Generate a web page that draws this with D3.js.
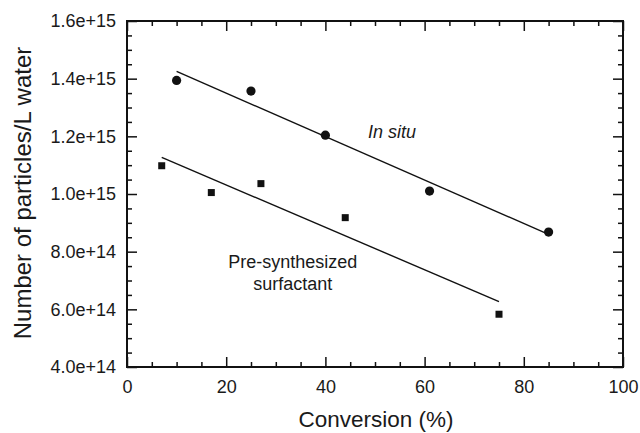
<!DOCTYPE html>
<html>
<head>
<meta charset="utf-8">
<script src="https://cdn.jsdelivr.net/npm/d3@7"></script>
<style>
  html, body { margin: 0; padding: 0; background: #fff; }
  svg { display: block; }
  text { font-family: "Liberation Sans", Arial, sans-serif; fill: #1a1a1a; }
</style>
</head>
<body>
<svg id="chart" width="640" height="433"></svg>
<script>
// ---- data ----
const inSituX = [10, 25, 40, 61, 85];
const inSituY = [1.394e15, 1.357e15, 1.204e15, 1.010e15, 0.868e15];
const preSynX = [7, 17, 27, 44, 75];
const preSynY = [1.098e15, 1.005e15, 1.036e15, 0.918e15, 0.583e15];
const inSituFitX = [10, 85];
const inSituFitY = [1.425e15, 0.86e15];
const preSynFitX = [7, 75];
const preSynFitY = [1.127e15, 0.627e15];
const xTicks = [0, 20, 40, 60, 80, 100];
const yTicks = [4e14, 6e14, 8e14, 1e15, 1.2e15, 1.4e15, 1.6e15];
const yTickLabels = ["4.0e+14", "6.0e+14", "8.0e+14", "1.0e+15", "1.2e+15", "1.4e+15", "1.6e+15"];
const xTitle = "Conversion (%)";
const yTitle = "Number of particles/L water";

// ---- layout ----
const L = 127, R = 623, T = 21, B = 367;
const svg = d3.select("#chart");
const x = d3.scaleLinear().domain([0, 100]).range([L, R]);
const y = d3.scaleLinear().domain([4e14, 1.6e15]).range([B, T]);

const xMinor = d3.range(0, 100.01, 5).filter(v => v % 20 !== 0);
const yMinor = d3.range(4e14, 1.6e15 + 1, 0.5e14).filter(v => !yTicks.some(t => Math.abs(t - v) < 1e10));

const major = 10, minor = 5;
const g = svg.append("g");

// bottom axis
g.append("g").attr("transform", `translate(0,${B})`)
  .call(d3.axisBottom(x).tickValues(xTicks).tickSize(-major).tickSizeOuter(0).tickPadding(13).tickFormat(d3.format("d")));
g.append("g").attr("transform", `translate(0,${B})`)
  .call(d3.axisBottom(x).tickValues(xMinor).tickSize(-minor).tickSizeOuter(0).tickFormat(""));
// top axis
g.append("g").attr("transform", `translate(0,${T})`)
  .call(d3.axisTop(x).tickValues(xTicks).tickSize(-major).tickSizeOuter(0).tickFormat(""));
g.append("g").attr("transform", `translate(0,${T})`)
  .call(d3.axisTop(x).tickValues(xMinor).tickSize(-minor).tickSizeOuter(0).tickFormat(""));
// left axis
g.append("g").attr("transform", `translate(${L},0)`)
  .call(d3.axisLeft(y).tickValues(yTicks).tickSize(-major).tickSizeOuter(0).tickPadding(11)
    .tickFormat((d, i) => yTickLabels[i]));
g.append("g").attr("transform", `translate(${L},0)`)
  .call(d3.axisLeft(y).tickValues(yMinor).tickSize(-minor).tickSizeOuter(0).tickFormat(""));
// right axis
g.append("g").attr("transform", `translate(${R},0)`)
  .call(d3.axisRight(y).tickValues(yTicks).tickSize(-major).tickSizeOuter(0).tickFormat(""));
g.append("g").attr("transform", `translate(${R},0)`)
  .call(d3.axisRight(y).tickValues(yMinor).tickSize(-minor).tickSizeOuter(0).tickFormat(""));

g.selectAll(".domain").remove();
g.selectAll(".tick line").attr("stroke", "#111").attr("stroke-width", 1.5);
g.selectAll(".tick text").attr("font-size", 18).attr("fill", "#1a1a1a")
  .attr("font-family", "'Liberation Sans', Arial, sans-serif");

// frame
svg.append("rect").attr("x", L).attr("y", T).attr("width", R - L).attr("height", B - T)
  .attr("fill", "none").attr("stroke", "#111").attr("stroke-width", 2);

// fit lines
const line = d3.line().x(d => x(d[0])).y(d => y(d[1]));
svg.append("path").datum(inSituFitX.map((v, i) => [v, inSituFitY[i]]))
  .attr("d", line).attr("fill", "none").attr("stroke", "#111").attr("stroke-width", 1.4);
svg.append("path").datum(preSynFitX.map((v, i) => [v, preSynFitY[i]]))
  .attr("d", line).attr("fill", "none").attr("stroke", "#111").attr("stroke-width", 1.4);

// points
svg.selectAll("circle.pt").data(inSituX.map((v, i) => [v, inSituY[i]])).enter()
  .append("circle").attr("class", "pt")
  .attr("cx", d => x(d[0])).attr("cy", d => y(d[1])).attr("r", 4.6).attr("fill", "#111");
const s = 7;
svg.selectAll("rect.pt").data(preSynX.map((v, i) => [v, preSynY[i]])).enter()
  .append("rect").attr("class", "pt")
  .attr("x", d => x(d[0]) - s / 2).attr("y", d => y(d[1]) - s / 2)
  .attr("width", s).attr("height", s).attr("fill", "#111");

// annotations
svg.append("text").attr("x", x(48.6)).attr("y", y(1.2e15) + 1.5)
  .attr("font-size", 18).attr("font-style", "italic").text("In situ");
svg.append("text").attr("x", x(33.4)).attr("y", 268).attr("text-anchor", "middle")
  .attr("font-size", 18).text("Pre-synthesized");
svg.append("text").attr("x", x(33.4)).attr("y", 290).attr("text-anchor", "middle")
  .attr("font-size", 18).text("surfactant");

// axis titles
svg.append("text").attr("x", (L + R) / 2 + 1).attr("y", 427).attr("text-anchor", "middle")
  .attr("font-size", 22.5).text(xTitle);
svg.append("text").attr("transform", `translate(31,193) rotate(-90)`).attr("text-anchor", "middle")
  .attr("font-size", 24).text(yTitle);
</script>
</body>
</html>
